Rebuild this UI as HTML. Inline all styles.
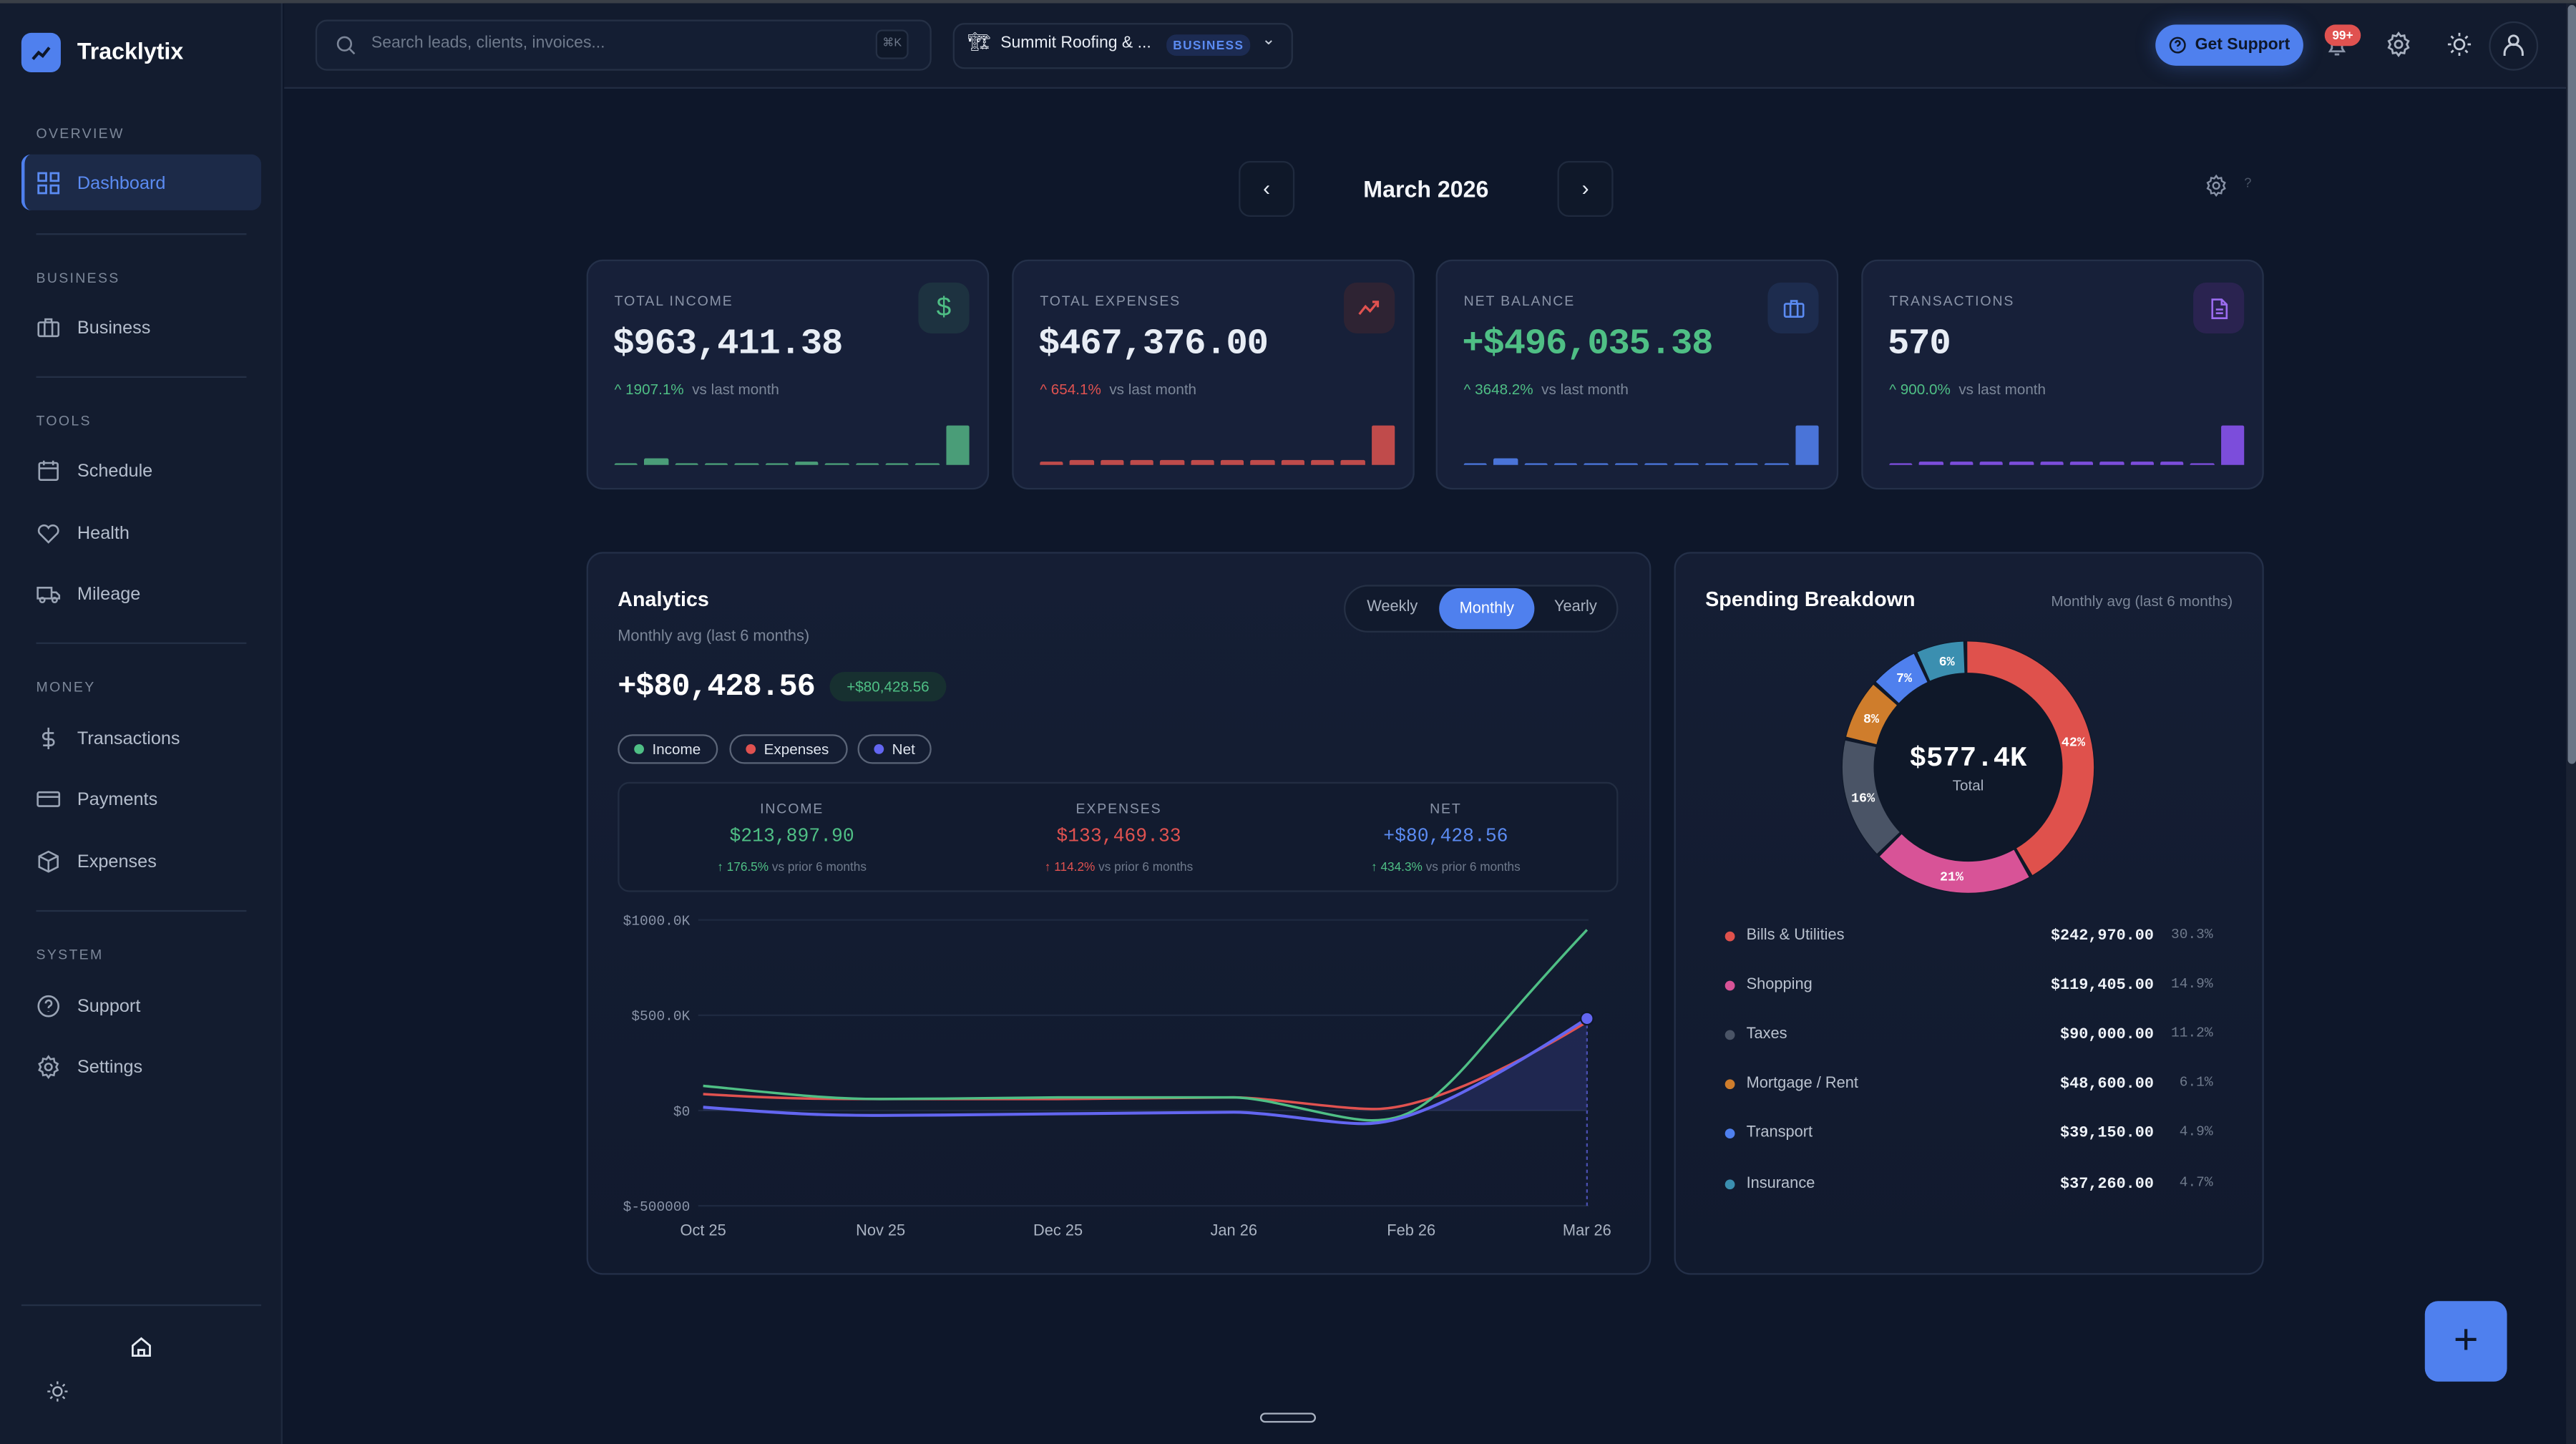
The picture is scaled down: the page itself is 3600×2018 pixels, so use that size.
<!DOCTYPE html>
<html><head><meta charset="utf-8"><style>
*{box-sizing:border-box;margin:0;padding:0}
html,body{width:3600px;height:2018px;overflow:hidden;background:#0d1628}
#w{position:absolute;left:0;top:0;width:1568px;height:879px;transform:scale(2.29592,2.2958);transform-origin:0 0;font-family:"Liberation Sans",sans-serif;color:#e8edf5;background:#0e172a}
.a{position:absolute}
.mono{font-family:"Liberation Mono",monospace}
.sec{position:absolute;left:22px;font-size:8.5px;letter-spacing:1px;color:#7c8799}
.nav{position:absolute;left:22px;font-size:11px;color:#b4bdcc;display:flex;align-items:center;gap:10px}
.nav svg{width:15px;height:15px}
.div{position:absolute;left:22px;width:128px;height:1px;background:#243046}
.card{position:absolute;top:158px;width:245px;height:140px;background:#172039;border:1px solid #243049;border-radius:10px}
.lbl{position:absolute;left:16px;top:19px;font-size:8.5px;letter-spacing:.8px;color:#8a94a8}
.val{position:absolute;left:15px;top:38px;font-size:22px;font-weight:bold;font-family:"Liberation Mono",monospace;letter-spacing:-.5px}
.chg{position:absolute;left:16px;top:73px;font-size:9px;color:#7c8799}
.ib{position:absolute;left:201px;top:13px;width:31px;height:31px;border-radius:8px;display:flex;align-items:center;justify-content:center}
.bars{position:absolute;left:16px;top:96px;width:216px;height:28px;display:flex;align-items:flex-end;gap:4px}
.bars i{flex:1;border-radius:1px 1px 0 0}
.pill{position:absolute;top:447px;height:18px;border:1px solid #5a6477;border-radius:9px;font-size:9px;color:#dfe5ee;display:flex;align-items:center;padding:0 9px;gap:5px}
.pill b{width:6px;height:6px;border-radius:50%}
.lg{position:absolute;left:1050px;width:300px;font-size:9.5px;color:#b9c1ce;height:12px}
.lg b{position:absolute;left:0;top:3px;width:6px;height:6px;border-radius:50%}
.lg span{position:absolute;left:13px;top:0}
.lg span.m{left:auto;right:39px;font-family:"Liberation Mono",monospace;font-weight:bold;color:#eef2f8}
.lg span.p{left:auto;right:3px;font-family:"Liberation Mono",monospace;color:#6f7a8c;font-size:8.5px}
</style></head><body><div id="w">
<!-- sidebar -->
<div class="a" style="left:0;top:0;width:172px;height:879px;background:#131c2f;border-right:1px solid #1f2a3e"></div>
<div class="a" style="left:0;top:0;width:1568px;height:2px;background:#3a3f47"></div>
<div class="a" style="left:13px;top:20px;width:24px;height:24px;border-radius:6px;background:#4f80ee"><svg width="24" height="24" viewBox="0 0 24 24"><path d="M7 16l3.5-4 2.5 2 4-5" stroke="#0e172a" stroke-width="1.8" fill="none"/></svg></div>
<div class="a" style="left:47px;top:23px;font-size:14px;font-weight:bold;color:#fff">Tracklytix</div>
<div class="sec" style="top:76px">OVERVIEW</div>
<div class="a" style="left:13px;top:94px;width:146px;height:34px;border-radius:6px;background:#1c2a48;border-left:2px solid #4f80ee"></div>
<div class="nav" style="top:104px;color:#5b8bf2"><svg viewBox="0 0 16 16" fill="none" stroke="#5b8bf2" stroke-width="1.3"><rect x="1.5" y="1.5" width="5" height="5"/><rect x="9.5" y="1.5" width="5" height="5"/><rect x="1.5" y="9.5" width="5" height="5"/><rect x="9.5" y="9.5" width="5" height="5"/></svg>Dashboard</div>
<div class="div" style="top:142px"></div>
<div class="sec" style="top:164px">BUSINESS</div>
<div class="nav" style="top:192px"><svg viewBox="0 0 16 16" fill="none" stroke="#9aa4b5" stroke-width="1.2"><rect x="1.5" y="4.5" width="13" height="9" rx="1"/><path d="M5.5 4.5v9M10.5 4.5v9M6 4.5V2.5h4v2"/></svg>Business</div>
<div class="div" style="top:229px"></div>
<div class="sec" style="top:251px">TOOLS</div>
<div class="nav" style="top:279px"><svg viewBox="0 0 16 16" fill="none" stroke="#9aa4b5" stroke-width="1.2"><rect x="2" y="3" width="12" height="11" rx="1"/><path d="M2 6.5h12M5 1.5v3M11 1.5v3"/></svg>Schedule</div>
<div class="nav" style="top:317px"><svg viewBox="0 0 16 16" fill="none" stroke="#9aa4b5" stroke-width="1.2"><path d="M8 14L2.2 8.2a3.3 3.3 0 015.8-3.6 3.3 3.3 0 015.8 3.6z"/></svg>Health</div>
<div class="nav" style="top:354px"><svg viewBox="0 0 16 16" fill="none" stroke="#9aa4b5" stroke-width="1.2"><path d="M1 4h9v7H1zM10 7h3l2 2v2h-5"/><circle cx="4" cy="12" r="1.5"/><circle cx="12" cy="12" r="1.5"/></svg>Mileage</div>
<div class="div" style="top:391px"></div>
<div class="sec" style="top:413px">MONEY</div>
<div class="nav" style="top:442px"><svg viewBox="0 0 16 16" fill="none" stroke="#9aa4b5" stroke-width="1.2"><path d="M8 1v14M11.5 4.5H6.5a2 2 0 000 4h3a2 2 0 010 4H4.5"/></svg>Transactions</div>
<div class="nav" style="top:479px"><svg viewBox="0 0 16 16" fill="none" stroke="#9aa4b5" stroke-width="1.2"><rect x="1" y="3.5" width="14" height="9" rx="1"/><path d="M1 6.5h14"/></svg>Payments</div>
<div class="nav" style="top:517px"><svg viewBox="0 0 16 16" fill="none" stroke="#9aa4b5" stroke-width="1.2"><path d="M8 1.5l6 3v7l-6 3-6-3v-7zM2 4.5l6 3 6-3M8 7.5v7"/></svg>Expenses</div>
<div class="div" style="top:554px"></div>
<div class="sec" style="top:576px">SYSTEM</div>
<div class="nav" style="top:605px"><svg viewBox="0 0 16 16" fill="none" stroke="#9aa4b5" stroke-width="1.2"><circle cx="8" cy="8" r="6.5"/><path d="M6.2 6.2a1.9 1.9 0 113 1.5c-.8.4-1.2.8-1.2 1.6M8 11.3v.3"/></svg>Support</div>
<div class="nav" style="top:642px"><svg viewBox="0 0 16 16" fill="none" stroke="#9aa4b5" stroke-width="1.2"><circle cx="8" cy="8" r="2.2"/><path d="M8 1.2l1.3 1.8 2.2-.4.4 2.2L14 6l-1 2 1 2-2.1 1.2-.4 2.2-2.2-.4L8 14.8 6.7 13l-2.2.4-.4-2.2L2 10l1-2-1-2 2.1-1.2.4-2.2 2.2.4z"/></svg>Settings</div>
<div class="a" style="left:13px;top:794px;width:146px;height:1px;background:#243046"></div>
<svg class="a" style="left:79px;top:813px" width="14" height="14" viewBox="0 0 16 16" fill="none" stroke="#e6ebf3" stroke-width="1.4"><path d="M2 7l6-5 6 5v7H2zM6 14v-4h4v4"/></svg>
<svg class="a" style="left:28px;top:840px" width="14" height="14" viewBox="0 0 16 16" fill="none" stroke="#aab3c2" stroke-width="1.2"><circle cx="8" cy="8" r="3"/><path d="M8 1v2M8 13v2M1 8h2M13 8h2M3 3l1.4 1.4M11.6 11.6L13 13M3 13l1.4-1.4M11.6 4.4L13 3"/></svg>

<!-- top bar -->
<div class="a" style="left:173px;top:2px;width:1389px;height:52px;background:#121b2e;border-bottom:1px solid #222d42"></div>
<div class="a" style="left:192px;top:12px;width:375px;height:31px;border:1px solid #253045;border-radius:7px;background:#141e33"></div>
<svg class="a" style="left:204px;top:21px" width="13" height="13" viewBox="0 0 16 16" fill="none" stroke="#7c8699" stroke-width="1.4"><circle cx="7" cy="7" r="5"/><path d="M11 11l3.5 3.5"/></svg>
<div class="a" style="left:226px;top:21px;font-size:10px;color:#6f7a8c">Search leads, clients, invoices...</div>
<div class="a" style="left:533px;top:18px;width:20px;height:18px;border:1px solid #253045;border-radius:4px;background:#0f1829;font-size:7px;color:#6f7a8c;text-align:center;line-height:16px">⌘K</div>
<div class="a" style="left:580px;top:14px;width:207px;height:28px;border:1px solid #253045;border-radius:7px;background:#131c30"></div>
<div class="a" style="left:589px;top:19px;font-size:11px">🏗</div>
<div class="a" style="left:609px;top:21px;font-size:10px;color:#e8edf5">Summit Roofing &amp; ...</div>
<div class="a" style="left:710px;top:21px;height:13px;padding:0 4px;border-radius:6px;background:#1c2b52;font-size:7.5px;letter-spacing:.6px;color:#5b8bf2;line-height:13px;font-weight:bold">BUSINESS</div>
<div class="a" style="left:768px;top:19px;font-size:10px;color:#c5ccd8">⌄</div>
<div class="a" style="left:1312px;top:15px;width:90px;height:25px;border-radius:13px;background:#4f80ee;box-shadow:0 0 12px rgba(79,128,238,.35);font-size:10px;font-weight:bold;color:#0e172a;display:flex;align-items:center;justify-content:center;gap:5px"><svg width="11" height="11" viewBox="0 0 16 16" fill="none" stroke="#0e172a" stroke-width="1.6"><circle cx="8" cy="8" r="6.5"/><path d="M6.2 6.2a1.9 1.9 0 113 1.5c-.8.4-1.2.8-1.2 1.6M8 11.3v.3"/></svg>Get Support</div>
<svg class="a" style="left:1415px;top:20px" width="15" height="15" viewBox="0 0 16 16" fill="none" stroke="#8a94a8" stroke-width="1.3"><path d="M3.5 12h9l-1.2-2V7a3.3 3.3 0 00-6.6 0v3zM6.5 14h3"/></svg>
<div class="a" style="left:1415px;top:15px;width:22px;height:13px;border-radius:7px;background:#e05250;font-size:7.5px;font-weight:bold;color:#fff;text-align:center;line-height:13px">99+</div>
<svg class="a" style="left:1452px;top:19px" width="16" height="16" viewBox="0 0 16 16" fill="none" stroke="#aab3c2" stroke-width="1.2"><circle cx="8" cy="8" r="2.2"/><path d="M8 1.2l1.3 1.8 2.2-.4.4 2.2L14 6l-1 2 1 2-2.1 1.2-.4 2.2-2.2-.4L8 14.8 6.7 13l-2.2.4-.4-2.2L2 10l1-2-1-2 2.1-1.2.4-2.2 2.2.4z"/></svg>
<svg class="a" style="left:1489px;top:19px" width="16" height="16" viewBox="0 0 16 16" fill="none" stroke="#c5ccd8" stroke-width="1.2"><circle cx="8" cy="8" r="3"/><path d="M8 1v2M8 13v2M1 8h2M13 8h2M3 3l1.4 1.4M11.6 11.6L13 13M3 13l1.4-1.4M11.6 4.4L13 3"/></svg>
<div class="a" style="left:1515px;top:13px;width:30px;height:30px;border-radius:50%;border:1px solid #253045"></div>
<svg class="a" style="left:1523px;top:20px" width="14" height="15" viewBox="0 0 14 15" fill="none" stroke="#c5ccd8" stroke-width="1.3"><circle cx="7" cy="4.5" r="2.8"/><path d="M1.5 14v-1.5a5.5 5.5 0 0111 0V14"/></svg>
<div class="a" style="left:1562px;top:2px;width:6px;height:877px;background:#1a2233"></div>
<div class="a" style="left:1563px;top:3px;width:5px;height:462px;border-radius:3px;background:#6b7687"></div>

<!-- month nav -->
<div class="a" style="left:754px;top:98px;width:34px;height:34px;border:1px solid #1f2a3e;border-radius:7px;background:#0f1829;text-align:center;line-height:32px;font-size:13px;color:#e8edf5">‹</div>
<div class="a" style="left:800px;top:107px;width:136px;text-align:center;font-size:14px;font-weight:bold;color:#f4f6fa">March 2026</div>
<div class="a" style="left:948px;top:98px;width:34px;height:34px;border:1px solid #1f2a3e;border-radius:7px;background:#0f1829;text-align:center;line-height:32px;font-size:13px;color:#e8edf5">›</div>
<svg class="a" style="left:1342px;top:106px" width="14" height="14" viewBox="0 0 16 16" fill="none" stroke="#8a94a8" stroke-width="1.2"><circle cx="8" cy="8" r="2.2"/><path d="M8 1.2l1.3 1.8 2.2-.4.4 2.2L14 6l-1 2 1 2-2.1 1.2-.4 2.2-2.2-.4L8 14.8 6.7 13l-2.2.4-.4-2.2L2 10l1-2-1-2 2.1-1.2.4-2.2 2.2.4z"/></svg>
<div class="a" style="left:1366px;top:107px;font-size:8px;color:#4a5466">?</div>

<!-- KPI cards -->
<div class="card" style="left:357px"><div class="lbl">TOTAL INCOME</div><div class="ib" style="background:#1d3240;color:#4fbf85;font-size:16px">$</div><div class="val">$963,411.38</div><div class="chg"><span style="color:#4fbf85">^ 1907.1%</span>&nbsp; vs last month</div>
<div class="bars"><i style="height:1px;background:#4a9d78"></i><i style="height:4px;background:#4a9d78"></i><i style="height:1px;background:#4a9d78"></i><i style="height:1.5px;background:#4a9d78"></i><i style="height:1px;background:#4a9d78"></i><i style="height:1px;background:#4a9d78"></i><i style="height:2px;background:#4a9d78"></i><i style="height:1px;background:#4a9d78"></i><i style="height:1px;background:#4a9d78"></i><i style="height:1.5px;background:#4a9d78"></i><i style="height:1px;background:#4a9d78"></i><i style="height:24px;background:#4a9d78"></i></div></div>
<div class="card" style="left:616px"><div class="lbl">TOTAL EXPENSES</div><div class="ib" style="background:#2e2333"><svg width="15" height="15" viewBox="0 0 16 16" fill="none" stroke="#e05250" stroke-width="1.5"><path d="M1.5 12l4-5 3 3 5-6M10 4h3.5v3.5"/></svg></div><div class="val">$467,376.00</div><div class="chg"><span style="color:#e05250">^ 654.1%</span>&nbsp; vs last month</div>
<div class="bars"><i style="height:2px;background:#c04b4b"></i><i style="height:3px;background:#c04b4b"></i><i style="height:3px;background:#c04b4b"></i><i style="height:3px;background:#c04b4b"></i><i style="height:3px;background:#c04b4b"></i><i style="height:3px;background:#c04b4b"></i><i style="height:3px;background:#c04b4b"></i><i style="height:3px;background:#c04b4b"></i><i style="height:3px;background:#c04b4b"></i><i style="height:3px;background:#c04b4b"></i><i style="height:3px;background:#c04b4b"></i><i style="height:24px;background:#c04b4b"></i></div></div>
<div class="card" style="left:874px"><div class="lbl">NET BALANCE</div><div class="ib" style="background:#1d2c4e"><svg width="14" height="14" viewBox="0 0 16 16" fill="none" stroke="#5b8bf2" stroke-width="1.3"><rect x="1.5" y="4.5" width="13" height="9" rx="1"/><path d="M5.5 4.5v9M10.5 4.5v9M6 4.5V2.5h4v2"/></svg></div><div class="val" style="color:#4fbf85">+$496,035.38</div><div class="chg"><span style="color:#4fbf85">^ 3648.2%</span>&nbsp; vs last month</div>
<div class="bars"><i style="height:1px;background:#4a74d8"></i><i style="height:4px;background:#4a74d8"></i><i style="height:1px;background:#4a74d8"></i><i style="height:1px;background:#4a74d8"></i><i style="height:1px;background:#4a74d8"></i><i style="height:1px;background:#4a74d8"></i><i style="height:1px;background:#4a74d8"></i><i style="height:1px;background:#4a74d8"></i><i style="height:1px;background:#4a74d8"></i><i style="height:1px;background:#4a74d8"></i><i style="height:1px;background:#4a74d8"></i><i style="height:24px;background:#4a74d8"></i></div></div>
<div class="card" style="left:1133px"><div class="lbl">TRANSACTIONS</div><div class="ib" style="background:#2a2350"><svg width="14" height="14" viewBox="0 0 16 16" fill="none" stroke="#9b6cf0" stroke-width="1.3"><path d="M3 1.5h6.5L13 5v9.5H3zM9.5 1.5V5H13M5.5 8.5h5M5.5 11h5"/></svg></div><div class="val">570</div><div class="chg"><span style="color:#4fbf85">^ 900.0%</span>&nbsp; vs last month</div>
<div class="bars"><i style="height:1px;background:#7c4ddb"></i><i style="height:2px;background:#7c4ddb"></i><i style="height:2px;background:#7c4ddb"></i><i style="height:2px;background:#7c4ddb"></i><i style="height:2px;background:#7c4ddb"></i><i style="height:2px;background:#7c4ddb"></i><i style="height:2px;background:#7c4ddb"></i><i style="height:2px;background:#7c4ddb"></i><i style="height:2px;background:#7c4ddb"></i><i style="height:2px;background:#7c4ddb"></i><i style="height:1px;background:#7c4ddb"></i><i style="height:24px;background:#7c4ddb"></i></div></div>

<!-- Analytics -->
<div class="a" style="left:357px;top:336px;width:648px;height:440px;border:1px solid #243049;border-radius:10px;background:linear-gradient(180deg,#151e34,#111a2e)"></div>
<div class="a" style="left:376px;top:358px;font-size:12.5px;font-weight:bold;color:#fff">Analytics</div>
<div class="a" style="left:376px;top:382px;font-size:9.5px;color:#7c8799">Monthly avg (last 6 months)</div>
<div class="a mono" style="left:376px;top:407px;font-size:19px;font-weight:bold;color:#fff;letter-spacing:-.5px">+$80,428.56</div>
<div class="a" style="left:505px;top:409px;width:71px;height:18px;border-radius:9px;background:#173030;font-size:9px;color:#4fbf85;text-align:center;line-height:18px">+$80,428.56</div>
<div class="a" style="left:818px;top:356px;width:167px;height:29px;border:1px solid #253045;border-radius:15px;background:#111a2d"></div>
<div class="a" style="left:832px;top:364px;font-size:9.5px;color:#aab3c2">Weekly</div>
<div class="a" style="left:876px;top:358px;width:58px;height:25px;border-radius:13px;background:#4f80ee;font-size:9.5px;color:#fff;text-align:center;line-height:25px">Monthly</div>
<div class="a" style="left:946px;top:364px;font-size:9.5px;color:#aab3c2">Yearly</div>
<div class="pill" style="left:376px;width:61px"><b style="background:#4fbf85"></b>Income</div>
<div class="pill" style="left:444px;width:72px"><b style="background:#e05250"></b>Expenses</div>
<div class="pill" style="left:522px;width:45px"><b style="background:#6366f1"></b>Net</div>
<div class="a" style="left:376px;top:476px;width:609px;height:67px;border:1px solid #222d42;border-radius:7px;background:#121b2f"></div>
<div class="a" style="left:382px;top:487px;width:200px;text-align:center;font-size:8.5px;letter-spacing:.8px;color:#8a94a8">INCOME</div>
<div class="a mono" style="left:382px;top:503px;width:200px;text-align:center;font-size:11.5px;color:#4fbf85">$213,897.90</div>
<div class="a" style="left:382px;top:523px;width:200px;text-align:center;font-size:7.5px;color:#6f7a8c"><span style="color:#4fbf85">↑ 176.5%</span> vs prior 6 months</div>
<div class="a" style="left:581px;top:487px;width:200px;text-align:center;font-size:8.5px;letter-spacing:.8px;color:#8a94a8">EXPENSES</div>
<div class="a mono" style="left:581px;top:503px;width:200px;text-align:center;font-size:11.5px;color:#e05250">$133,469.33</div>
<div class="a" style="left:581px;top:523px;width:200px;text-align:center;font-size:7.5px;color:#6f7a8c"><span style="color:#e05250">↑ 114.2%</span> vs prior 6 months</div>
<div class="a" style="left:780px;top:487px;width:200px;text-align:center;font-size:8.5px;letter-spacing:.8px;color:#8a94a8">NET</div>
<div class="a mono" style="left:780px;top:503px;width:200px;text-align:center;font-size:11.5px;color:#5b8bf2">+$80,428.56</div>
<div class="a" style="left:780px;top:523px;width:200px;text-align:center;font-size:7.5px;color:#6f7a8c"><span style="color:#4fbf85">↑ 434.3%</span> vs prior 6 months</div>
<svg class="a" style="left:0;top:0" width="1568" height="879">
<defs><clipPath id="cp"><rect x="420" y="540" width="560" height="136"/></clipPath></defs>
<g stroke="#1e2940" stroke-width="1"><line x1="425" y1="560" x2="967" y2="560"/><line x1="425" y1="618" x2="967" y2="618"/><line x1="425" y1="676" x2="967" y2="676"/><line x1="425" y1="734" x2="967" y2="734"/></g>
<g font-family="Liberation Mono,monospace" font-size="8.5" fill="#8a94a8" text-anchor="end"><text x="420" y="563">$1000.0K</text><text x="420" y="621">$500.0K</text><text x="420" y="679">$0</text><text x="420" y="737">$-500000</text></g>
<g font-family="Liberation Sans,sans-serif" font-size="9.5" fill="#aab3c2" text-anchor="middle"><text x="428" y="752">Oct 25</text><text x="536" y="752">Nov 25</text><text x="644" y="752">Dec 25</text><text x="751" y="752">Jan 26</text><text x="859" y="752">Feb 26</text><text x="966" y="752">Mar 26</text></g>
<path clip-path="url(#cp)" d="M428,674 C480,678 500,679 536,679 S620,678 644,678 S730,677 751,677 S810,684 830,684 S880,676 966,620 L966,676 L428,676Z" fill="rgba(99,102,241,.17)"/>
<line x1="966" y1="620" x2="966" y2="734" stroke="#4a4fb0" stroke-dasharray="2 2"/>
<path d="M428,666 C480,669 500,669 536,669 S620,669 644,669 S730,668 751,668 S820,676 840,675 S900,662 966,622" stroke="#e05250" stroke-width="1.5" fill="none"/>
<path d="M428,661 C470,665 500,669 536,669 S620,668 644,668 S730,668 751,668 S815,682 835,682 S870,675 900,640 S950,583 966,566" stroke="#4fbf85" stroke-width="1.5" fill="none"/>
<path d="M428,674 C480,678 500,679 536,679 S620,678 644,678 S730,677 751,677 S810,684 830,684 S880,676 966,620" stroke="#6366f1" stroke-width="1.8" fill="none"/>
<circle cx="966" cy="620" r="3.8" fill="#6366f1" stroke="#0e172a" stroke-width="1"/>
</svg>

<!-- Spending -->
<div class="a" style="left:1019px;top:336px;width:359px;height:440px;border:1px solid #243049;border-radius:10px;background:linear-gradient(180deg,#151e34,#111a2e)"></div>
<div class="a" style="left:1038px;top:358px;font-size:12.5px;font-weight:bold;color:#fff">Spending Breakdown</div>
<div class="a" style="left:1200px;top:361px;width:159px;text-align:right;font-size:9px;color:#7c8799">Monthly avg (last 6 months)</div>
<svg class="a" style="left:0;top:0" width="1568" height="879">
<circle cx="1198" cy="467" r="77" fill="#0f1829"/>
<g transform="rotate(-90 1198 467)" fill="none" stroke-width="19">
<circle cx="1198" cy="467" r="67" pathLength="100" stroke="#df514c" stroke-dasharray="41.5 58.5" stroke-dashoffset="0"/>
<circle cx="1198" cy="467" r="67" pathLength="100" stroke="#d85397" stroke-dasharray="20.5 79.5" stroke-dashoffset="-42"/>
<circle cx="1198" cy="467" r="67" pathLength="100" stroke="#4a5466" stroke-dasharray="15.5 84.5" stroke-dashoffset="-63"/>
<circle cx="1198" cy="467" r="67" pathLength="100" stroke="#cf7d2c" stroke-dasharray="7.5 92.5" stroke-dashoffset="-79"/>
<circle cx="1198" cy="467" r="67" pathLength="100" stroke="#4f80ee" stroke-dasharray="6 94" stroke-dashoffset="-87"/>
<circle cx="1198" cy="467" r="67" pathLength="100" stroke="#3b8fb0" stroke-dasharray="6 94" stroke-dashoffset="-93.5"/>
</g>
<g font-family="Liberation Mono,monospace" font-size="8" font-weight="bold" fill="#fff" text-anchor="middle"><text x="1262" y="454">42%</text><text x="1188" y="536">21%</text><text x="1134" y="488">16%</text><text x="1139" y="440">8%</text><text x="1159" y="415">7%</text><text x="1185" y="405">6%</text></g>
<text x="1198" y="466" font-family="Liberation Mono,monospace" font-size="17" font-weight="bold" fill="#fff" text-anchor="middle">$577.4K</text>
<text x="1198" y="481" font-family="Liberation Sans,sans-serif" font-size="9" fill="#aab3c2" text-anchor="middle">Total</text>
</svg>
<div class="lg" style="top:564px"><b style="background:#df514c"></b><span>Bills &amp; Utilities</span><span class="m">$242,970.00</span><span class="p">30.3%</span></div>
<div class="lg" style="top:594px"><b style="background:#d85397"></b><span>Shopping</span><span class="m">$119,405.00</span><span class="p">14.9%</span></div>
<div class="lg" style="top:624px"><b style="background:#4a5466"></b><span>Taxes</span><span class="m">$90,000.00</span><span class="p">11.2%</span></div>
<div class="lg" style="top:654px"><b style="background:#cf7d2c"></b><span>Mortgage / Rent</span><span class="m">$48,600.00</span><span class="p">6.1%</span></div>
<div class="lg" style="top:684px"><b style="background:#4f80ee"></b><span>Transport</span><span class="m">$39,150.00</span><span class="p">4.9%</span></div>
<div class="lg" style="top:715px"><b style="background:#3b8fb0"></b><span>Insurance</span><span class="m">$37,260.00</span><span class="p">4.7%</span></div>

<div class="a" style="left:1476px;top:792px;width:50px;height:49px;border-radius:8px;background:#4f80ee;color:#0e172a;font-size:26px;text-align:center;line-height:47px">+</div>
<div class="a" style="left:767px;top:860px;width:34px;height:6px;border-radius:3px;border:1px solid #aab3c2;background:#0e172a"></div>
</div></body></html>
